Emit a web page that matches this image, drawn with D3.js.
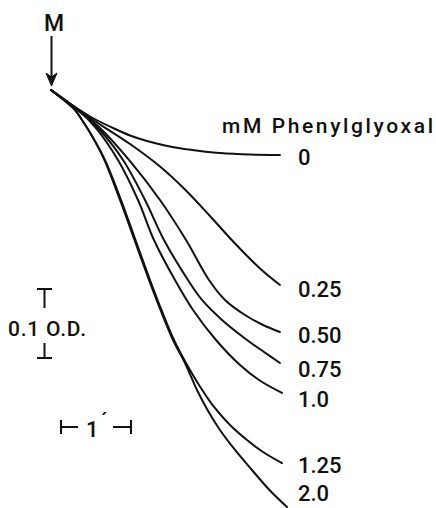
<!DOCTYPE html>
<html>
<head>
<meta charset="utf-8">
<script src="https://cdn.jsdelivr.net/npm/d3@7"></script>
<style>
  html, body { margin: 0; padding: 0; background: #fff; }
  svg { display: block; }
  text { font-family: Roboto, "Liberation Sans", Arial, sans-serif; font-weight: 500; fill: #111; }
</style>
</head>
<body>
<svg id="chart" width="436" height="508"></svg>
<script>
// ---- Data: time (min) after addition at M, decrease in O.D. ----
const concentrations = ["0", "0.25", "0.50", "0.75", "1.0", "1.25", "2.0"];
const legendTitle = "mM Phenylglyoxal";

const s0   = [[0,0],[0.271,0.0196],[0.557,0.0384],[0.886,0.0551],[1.129,0.0659],[1.371,0.0739],[1.629,0.0804],[1.843,0.0845],[2.129,0.0884],[2.414,0.0913],[2.843,0.0935],[3.271,0.0942]];
const s025 = [[0,0],[0.386,0.029],[0.557,0.0406],[1.129,0.0783],[1.557,0.1109],[1.914,0.1442],[2.271,0.1826],[2.629,0.2225],[2.986,0.2587],[3.271,0.2826]];
const s050 = [[0,0],[0.386,0.029],[0.700,0.0551],[1.114,0.1014],[1.557,0.1594],[1.929,0.2174],[2.257,0.2754],[2.486,0.3043],[2.771,0.3261],[3.029,0.3406],[3.271,0.3507]];
const s075 = [[0,0],[0.386,0.029],[0.671,0.0551],[1.029,0.1014],[1.343,0.1594],[1.614,0.2174],[1.957,0.2754],[2.157,0.3043],[2.443,0.3333],[2.800,0.3623],[3.043,0.3797],[3.271,0.3957]];
const s100 = [[0,0],[0.386,0.029],[0.643,0.0551],[0.957,0.1014],[1.243,0.1594],[1.471,0.2174],[1.771,0.2754],[2.029,0.3188],[2.357,0.3623],[2.700,0.3986],[2.971,0.4203],[3.300,0.4391]];
const s125 = [[0,0],[0.343,0.029],[0.443,0.0435],[0.586,0.0667],[0.770,0.1014],[1.000,0.1594],[1.207,0.2174],[1.414,0.2754],[1.578,0.3188],[1.757,0.3623],[1.928,0.3957],[2.114,0.4275],[2.329,0.4594],[2.557,0.4855],[2.800,0.5072],[3.029,0.5246],[3.300,0.5406]];
const s200 = [[0,0],[0.343,0.029],[0.443,0.0435],[0.586,0.0667],[0.764,0.1014],[0.986,0.1594],[1.193,0.2174],[1.400,0.2754],[1.564,0.3188],[1.743,0.3623],[1.914,0.3957],[2.086,0.4348],[2.236,0.4638],[2.414,0.4928],[2.629,0.5217],[2.871,0.5507],[3.121,0.5797],[3.371,0.6043]];
const seriesValues = [s0, s025, s050, s075, s100, s125, s200];

const scaleBarOD = 0.1;   // O.D.
const scaleBarTime = 1;   // min

// ---- Layout ----
const svg = d3.select("#chart");
const x = d3.scaleLinear().domain([0, 3.3]).range([51, 282]);
const y = d3.scaleLinear().domain([0, 0.6]).range([90, 504]);

const line = d3.line()
  .x(d => x(d[0]))
  .y(d => y(d[1]))
  .curve(d3.curveCatmullRom.alpha(0.5));

svg.append("g")
  .selectAll("path")
  .data(seriesValues)
  .join("path")
  .attr("d", line)
  .attr("fill", "none")
  .attr("stroke", "#111")
  .attr("stroke-width", 2)
  .attr("stroke-linecap", "round")
  .attr("stroke-linejoin", "round");

// Series labels
const labelBaselines = [165, 297, 343, 377, 407, 473, 501];
svg.append("g")
  .selectAll("text")
  .data(concentrations)
  .join("text")
  .attr("x", 298)
  .attr("y", (d, i) => labelBaselines[i])
  .attr("font-size", 22)
  .text(d => d);

// Legend title
svg.append("text")
  .attr("x", 222)
  .attr("y", 133)
  .attr("font-size", 21)
  .attr("textLength", 211)
  .attr("lengthAdjust", "spacing")
  .text(legendTitle);

// "M" marker with arrow
svg.append("text")
  .attr("x", 54)
  .attr("y", 31)
  .attr("text-anchor", "middle")
  .attr("font-size", 23)
  .text("M");
svg.append("line")
  .attr("x1", 51.5).attr("x2", 51.5)
  .attr("y1", 36).attr("y2", 78)
  .attr("stroke", "#111").attr("stroke-width", 2);
svg.append("path")
  .attr("d", "M46,73 L51.5,77 L57,73 L51.5,86 Z")
  .attr("fill", "#111")
  .attr("stroke", "#111")
  .attr("stroke-width", 1);

// O.D. scale bar
const odTop = 289;
const odLen = y(scaleBarOD) - y(0);
const odX = 44.5;
const bar = svg.append("g").attr("stroke", "#111").attr("stroke-width", 2);
bar.append("line").attr("x1", odX - 7.5).attr("x2", odX + 7.5).attr("y1", odTop).attr("y2", odTop);
bar.append("line").attr("x1", odX).attr("x2", odX).attr("y1", odTop).attr("y2", odTop + 19);
bar.append("line").attr("x1", odX).attr("x2", odX).attr("y1", odTop + odLen - 15).attr("y2", odTop + odLen);
bar.append("line").attr("x1", odX - 7.5).attr("x2", odX + 7.5).attr("y1", odTop + odLen).attr("y2", odTop + odLen);
svg.append("text")
  .attr("x", 8)
  .attr("y", 336)
  .attr("font-size", 21)
  .attr("textLength", 78)
  .attr("lengthAdjust", "spacing")
  .text("0.1 O.D.");

// Time scale bar
const tLeft = 61;
const tLen = x(scaleBarTime) - x(0);
const tY = 427;
bar.append("line").attr("x1", tLeft).attr("x2", tLeft).attr("y1", tY - 7).attr("y2", tY + 7);
bar.append("line").attr("x1", tLeft).attr("x2", tLeft + 17).attr("y1", tY).attr("y2", tY);
bar.append("line").attr("x1", tLeft + tLen - 18).attr("x2", tLeft + tLen).attr("y1", tY).attr("y2", tY);
bar.append("line").attr("x1", tLeft + tLen).attr("x2", tLeft + tLen).attr("y1", tY - 7).attr("y2", tY + 7);
svg.append("text")
  .attr("x", 86)
  .attr("y", 437)
  .attr("font-size", 22)
  .text("1");
svg.append("text")
  .attr("x", 101)
  .attr("y", 427)
  .attr("font-size", 20)
  .text("\u00B4");
</script>
</body>
</html>
